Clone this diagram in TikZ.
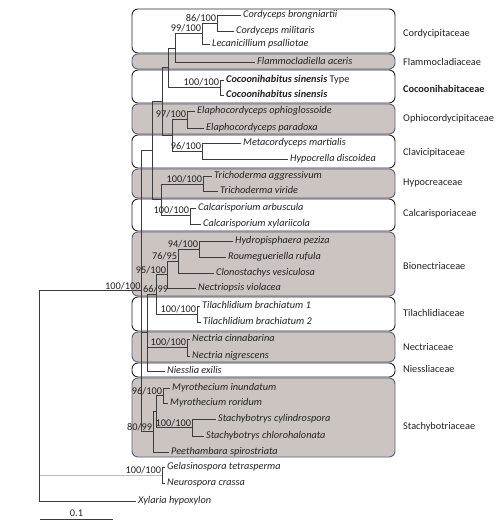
\documentclass[tikz,border=0pt]{standalone}
\usepackage{fontspec}
\setmainfont{Carlito}
\definecolor{boxgray}{HTML}{CCC4C1}
\definecolor{boxedge}{HTML}{57607C}
\definecolor{treecol}{HTML}{3C3C3C}
\definecolor{lightbranch}{HTML}{BDBDBD}
\definecolor{txtcol}{HTML}{222222}
\begin{document}
\fontsize{10.3}{12}\selectfont
\begin{tikzpicture}[x=1pt,y=-1pt,
  font=\fontsize{10.3}{12}\selectfont, text=txtcol,
  tl/.style={draw=treecol, line width=0.9pt},
  leaf/.style={anchor=west, inner sep=0pt, inner xsep=2.5pt, font=\fontsize{10.3}{12}\selectfont\itshape, text height=6.5pt, text depth=1.5pt},
  suplab/.style={anchor=south east, inner sep=0.8pt},
  fam/.style={anchor=west, inner sep=0pt},
  gbox/.style={fill=boxgray, draw=boxedge, line width=0.9pt, rounded corners=6pt},
  wbox/.style={fill=white, draw=black!85, line width=0.9pt, rounded corners=6pt}]
\useasboundingbox (0,0) rectangle (500,525);

% family boxes
\draw[wbox] (132,9) rectangle (395,53);
\draw[gbox] (132,54) rectangle (395,69);
\draw[wbox] (132,70) rectangle (395,103);
\draw[gbox] (132,104) rectangle (395,134);
\draw[wbox] (132,135) rectangle (395,168);
\draw[gbox] (132,169) rectangle (395,198);
\draw[wbox] (132,199) rectangle (395,231);
\draw[gbox] (132,232) rectangle (395,296);
\draw[wbox] (132,297) rectangle (395,331);
\draw[gbox] (132,332) rectangle (395,362);
\draw[wbox] (132,363) rectangle (395,377);
\draw[gbox] (132,378) rectangle (395,457);

% family labels
\node[fam] (f1) at (403,34) {Cordycipitaceae};
\node[fam] (f2) at (403,62) {Flammocladiaceae};
\node[fam] (f3) at (403,89) {\textbf{Cocoonihabitaceae}};
\node[fam] (f4) at (403,119) {Ophiocordycipitaceae};
\node[fam] (f5) at (403,153) {Clavicipitaceae};
\node[fam] (f6) at (403,183) {Hypocreaceae};
\node[fam] (f7) at (403,214) {Calcarisporiaceae};
\node[fam] (f8) at (403,266) {Bionectriaceae};
\node[fam] (f9) at (403,313) {Tilachlidiaceae};
\node[fam] (f10) at (403,347) {Nectriaceae};
\node[fam] (f11) at (403,369) {Niessliaceae};
\node[fam] (f12) at (403,427) {Stachybotriaceae};

% leaves
\node[leaf] (l1) at (240.5,15) {Cordyceps brongniartii};
\node[leaf] (l2) at (233.5,31) {Cordyceps militaris};
\node[leaf] (l3) at (209.5,44) {Lecanicillium psalliotae};
\node[leaf] (l4) at (254.5,62) {Flammocladiella aceris};
\node[leaf] (l5) at (223.5,80) {\textbf{Cocoonihabitus sinensis} \upshape Type};
\node[leaf] (l6) at (223.5,95) {\textbf{Cocoonihabitus sinensis}};
\node[leaf] (l7) at (194.5,111) {Elaphocordyceps ophioglossoide};
\node[leaf] (l8) at (203.5,128) {Elaphocordyceps paradoxa};
\node[leaf] (l9) at (240.5,143) {Metacordyceps martialis};
\node[leaf] (l10) at (287.5,159) {Hypocrella discoidea};
\node[leaf] (l11) at (211.5,176) {Trichoderma aggressivum};
\node[leaf] (l12) at (217.5,191) {Trichoderma viride};
\node[leaf] (l13) at (195.5,208) {Calcarisporium arbuscula};
\node[leaf] (l14) at (200.5,224) {Calcarisporium xylariicola};
\node[leaf] (l15) at (232.5,241) {Hydropisphaera peziza};
\node[leaf] (l16) at (225.5,257) {Roumegueriella rufula};
\node[leaf] (l17) at (213.5,273) {Clonostachys vesiculosa};
\node[leaf] (l18) at (195.5,288) {Nectriopsis violacea};
\node[leaf] (l19) at (199.5,306) {Tilachlidium brachiatum 1};
\node[leaf] (l20) at (200.5,322) {Tilachlidium brachiatum 2};
\node[leaf] (l21) at (189.5,339) {Nectria cinnabarina};
\node[leaf] (l22) at (189.5,356) {Nectria nigrescens};
\node[leaf] (l23) at (164.5,371) {Niesslia exilis};
\node[leaf] (l24) at (169.5,388) {Myrothecium inundatum};
\node[leaf] (l25) at (167.5,403) {Myrothecium roridum};
\node[leaf] (l26) at (215.5,419) {Stachybotrys cylindrospora};
\node[leaf] (l27) at (203.5,436) {Stachybotrys chlorohalonata};
\node[leaf] (l28) at (168.5,452) {Peethambara spirostriata};
\node[leaf] (l29) at (164.5,467) {Gelasinospora tetrasperma};
\node[leaf] (l30) at (164.5,483) {Neurospora crassa};
\node[leaf] (l31) at (135.5,501) {Xylaria hypoxylon};

% internal nodes
\coordinate (nB) at (217,23);
\coordinate (nA) at (202,33);
\coordinate (nC) at (175,48);
\coordinate (nCo) at (220,87);
\coordinate (nD) at (168,67);
\coordinate (nOp) at (187,119);
\coordinate (nCl) at (202,151);
\coordinate (nF) at (172,135);
\coordinate (nE) at (162,101);
\coordinate (nTr) at (203,184);
\coordinate (nCa) at (190,215);
\coordinate (nH) at (161,199.5);
\coordinate (nG) at (152,150);
\coordinate (n94) at (199,249);
\coordinate (n76) at (178,261);
\coordinate (n95) at (167,274.5);
\coordinate (nTi) at (197,314);
\coordinate (nK) at (156,294);
\coordinate (nNe) at (187,347);
\coordinate (nL) at (147,332);
\coordinate (n96) at (163,395.5);
\coordinate (nSt) at (192,427.5);
\coordinate (nO) at (156,411.5);
\coordinate (nN) at (153,431.5);
\coordinate (nJ) at (141.5,290.7);
\coordinate (nGe) at (162,475);
\coordinate (root) at (39,400);

% light branch first
\draw[draw=lightbranch, line width=0.9pt] (root) |- (nGe);

% branches
\foreach \p/\c in {nB/l1.west, nB/l2.west, nA/nB, nA/l3.west, nC/nA, nC/l4.west,
  nCo/l5.west, nCo/l6.west, nD/nC, nD/nCo,
  nOp/l7.west, nOp/l8.west, nCl/l9.west, nCl/l10.west, nF/nOp, nF/nCl,
  nE/nD, nE/nF,
  nTr/l11.west, nTr/l12.west, nCa/l13.west, nCa/l14.west, nH/nTr, nH/nCa,
  nG/nE, nG/nH,
  n94/l15.west, n94/l16.west, n76/n94, n76/l17.west, n95/n76, n95/l18.west,
  nTi/l19.west, nTi/l20.west, nK/n95, nK/nTi,
  nNe/l21.west, nNe/l22.west, nL/nK, nL/nNe, nL/l23.west,
  n96/l24.west, n96/l25.west, nSt/l26.west, nSt/l27.west, nO/n96, nO/nSt,
  nN/nO, nN/l28.west,
  nJ/nG, nJ/nL, nJ/nN,
  nGe/l29.west, nGe/l30.west,
  root/nJ, root/l31.west}
  \draw[tl] (\p) |- (\c);

% support values
\node[suplab] (s1) at (nB) {86/100};
\node[suplab] (s2) at (nA) {99/100};
\node[suplab] (s3) at (nCo) {100/100};
\node[suplab] (s4) at (nOp) {97/100};
\node[suplab] (s5) at (nCl) {96/100};
\node[suplab] (s6) at (nTr) {100/100};
\node[suplab] (s7) at (nCa) {100/100};
\node[suplab] (s8) at (n94) {94/100};
\node[suplab] (s9) at (n76) {76/95};
\node[suplab] (s10) at (n95) {95/100};
\node[suplab] (s11) at (169,293.5) {66/99};
\node[suplab] (s12) at (nTi) {100/100};
\node[suplab] (s13) at (nNe) {100/100};
\node[suplab] (s14) at (n96) {96/100};
\node[suplab] (s15) at (nSt) {100/100};
\node[suplab] (s16) at (nN) {80/99};
\node[suplab] (s17) at (nJ) {100/100};
\node[suplab] (s18) at (nGe) {100/100};

% scale bar
\coordinate (sb1) at (40,519);
\coordinate (sb2) at (113,519);
\draw[tl] (sb1) -- (sb2) node[midway, above=1.5pt, inner sep=0pt] (sbl) {0.1};
\end{tikzpicture}
\end{document}
